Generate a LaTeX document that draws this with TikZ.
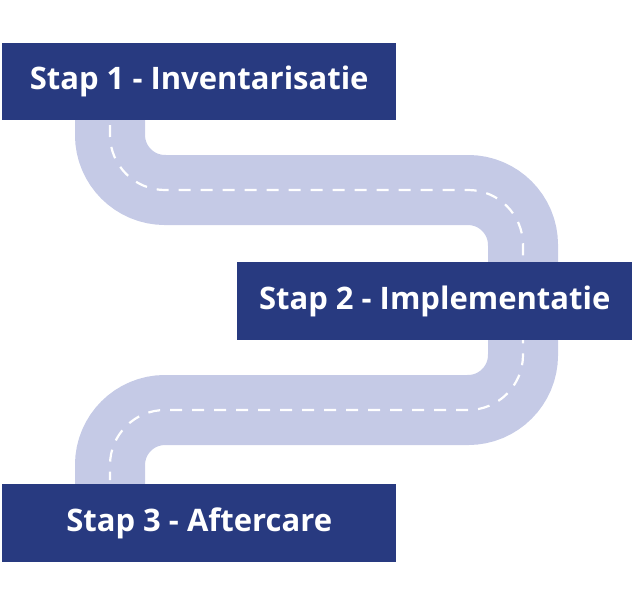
\documentclass[tikz,border=0pt]{standalone}
\usepackage{fontspec}
\setmainfont{Open Sans}
\begin{document}
\begin{tikzpicture}[x=1pt,y=-1pt,
  box/.style={fill=boxblue,draw=none,text=white,font=\bfseries\fontsize{31}{36}\selectfont,inner sep=0pt,anchor=north west},
  road/.style={draw=roadc,line width=70pt,rounded corners=55pt},
  lane/.style={draw=white,line width=2.2pt,dash pattern=on 12pt off 10pt,rounded corners=55pt}]
\definecolor{boxblue}{HTML}{283A80}
\definecolor{roadc}{HTML}{C5CAE6}
\useasboundingbox (0,0) rectangle (634,600);
\coordinate (a) at (110,100);
\coordinate (b) at (110,190);
\coordinate (c) at (523,190);
\coordinate (d) at (523,410);
\coordinate (e) at (110,410);
\coordinate (f) at (110,500);
\draw[road] (a) -- (b) -- (c) -- (d) -- (e) -- (f);
\draw[lane] (110,125) -- (b) -- (c) -- (d) -- (e) -- (110,480);
\node[box,minimum width=394pt,minimum height=77pt] (s1) at (2,43) {Stap 1 - Inventarisatie};
\node[box,minimum width=395pt,minimum height=78pt] (s2) at (237,262) {Stap 2 - Implementatie};
\node[box,minimum width=394pt,minimum height=78pt] (s3) at (2,484) {Stap 3 - Aftercare};
\end{tikzpicture}
\end{document}
